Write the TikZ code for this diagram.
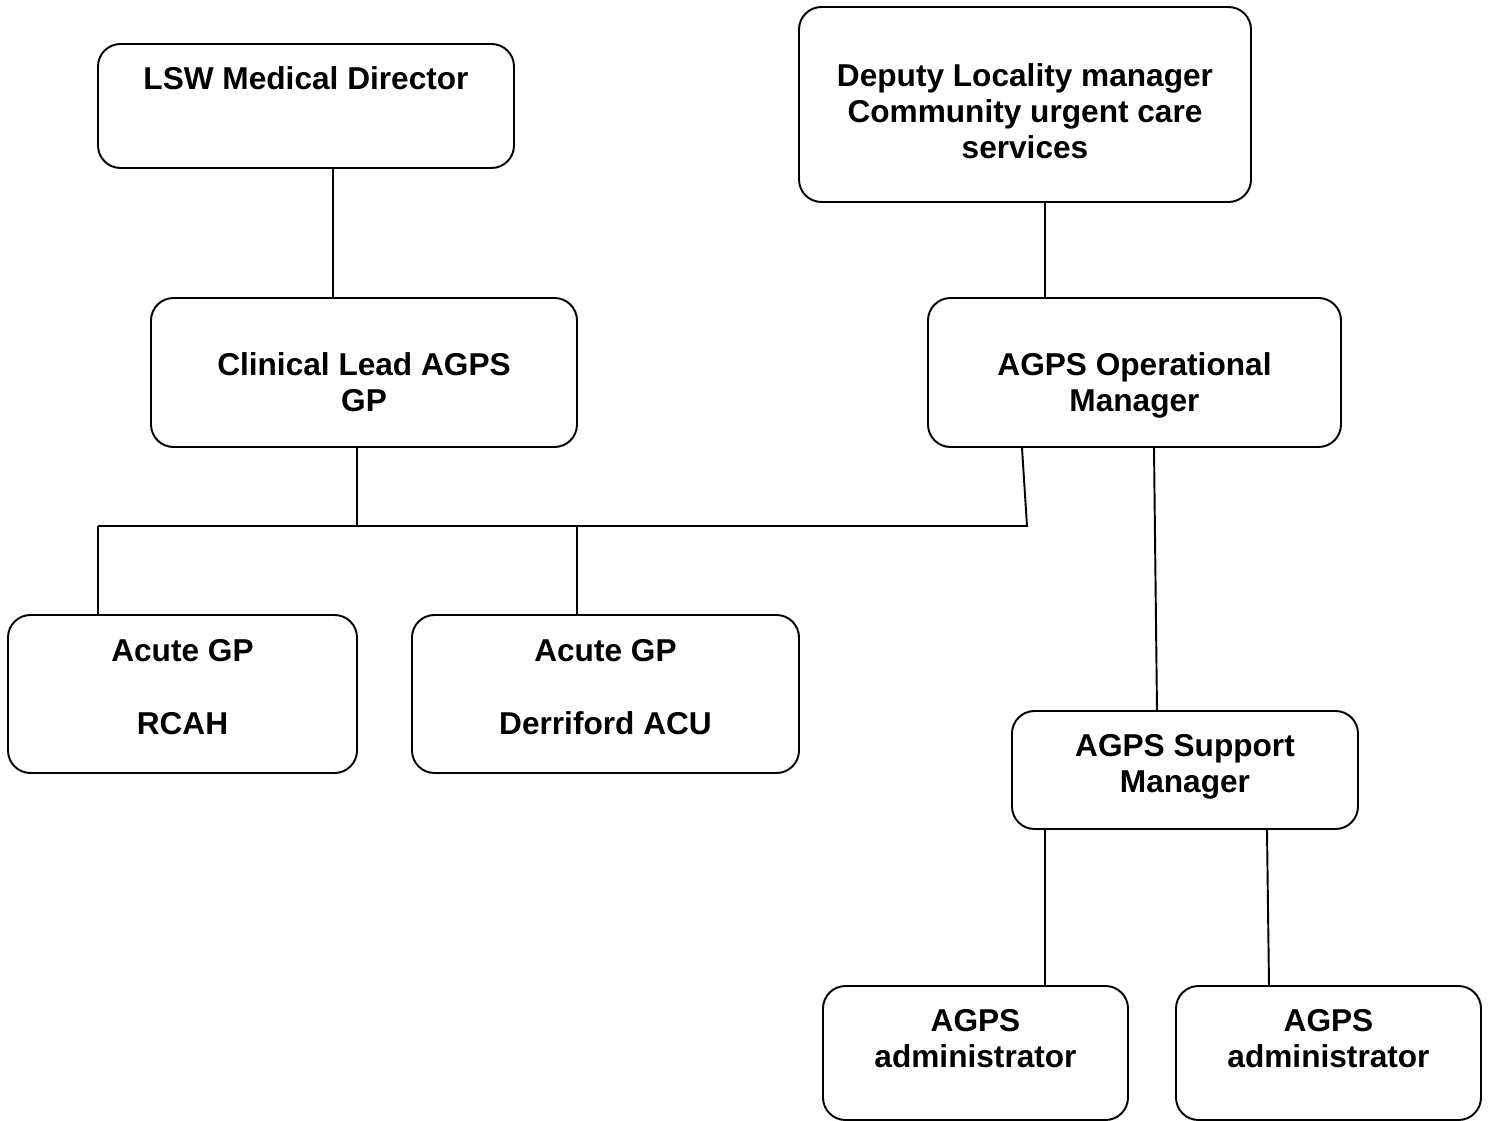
\documentclass[tikz,border=0pt]{standalone}
\usepackage{fontspec}
\setmainfont{Liberation Sans}
\usetikzlibrary{calc}

\tikzset{
  txt/.style={font=\fontsize{18}{20.7}\selectfont\bfseries, align=center},
  box/.style={draw, line width=1.1pt, rounded corners=0.45cm, inner sep=0pt},
  boxsize/.style 2 args={minimum width=#1*0.02cm, minimum height=#2*0.02cm},
  intext/.style={txt, anchor=north, yshift=-#1*0.02cm},
  link/.style={line width=1.1pt}
}

\begin{document}
\begin{tikzpicture}[x=0.02cm, y=-0.02cm]
  \useasboundingbox (0,0) rectangle (1489,1121);
  % top row
  \node[box, boxsize={416}{124},
    label={[intext=17]north:LSW Medical Director}] (lsw) at (306,106) {};
  \node[box, boxsize={452}{195},
    label={[intext=51]north:{Deputy Locality manager\\Community urgent care\\services}}] (deputy) at (1025,104.5) {};
  % second row
  \node[box, boxsize={426}{149},
    label={[intext=49]north:{Clinical Lead AGPS\\GP}}] (clinical) at (364,372.5) {};
  \node[box, boxsize={413}{149},
    label={[intext=49]north:{AGPS Operational\\Manager}}] (opman) at (1134.5,372.5) {};
  % acute GPs
  \node[box, boxsize={349}{158},
    label={[intext=19]north:{Acute GP\\[20.7pt]RCAH}}] (gpa) at (182.5,694) {};
  \node[box, boxsize={387}{158},
    label={[intext=19]north:{Acute GP\\[20.7pt]Derriford ACU}}] (gpb) at (605.5,694) {};
  % support and admin
  \node[box, boxsize={346}{118},
    label={[intext=18]north:{AGPS Support\\Manager}}] (support) at (1185,770) {};
  \node[box, boxsize={305}{134},
    label={[intext=18]north:{AGPS\\administrator}}] (admina) at (975.5,1053) {};
  \node[box, boxsize={305}{134},
    label={[intext=18]north:{AGPS\\administrator}}] (adminb) at (1328.5,1053) {};

  % connectors
  \coordinate (busL) at (98,526);
  \coordinate (busR) at (1027,526);
  \coordinate (busM) at (577,526);
  \draw[link] (lsw.south -| 333,0) -- (clinical.north -| 333,0);
  \draw[link] (deputy.south -| 1045,0) -- (opman.north -| 1045,0);
  \draw[link] (clinical.south -| 357,0) |- (busR) -- (opman.south -| 1022,0);
  \draw[link] (busL) -- (busR);
  \draw[link] (busL) -- (gpa.north -| busL);
  \draw[link] (busM) -- (gpb.north -| busM);
  \draw[link] (opman.south -| 1154,0) -- (support.north -| 1157,0);
  \draw[link] (support.south -| 1045,0) -- (admina.north -| 1045,0);
  \draw[link] (support.south -| 1267,0) -- (adminb.north -| 1269,0);
\end{tikzpicture}
\end{document}
